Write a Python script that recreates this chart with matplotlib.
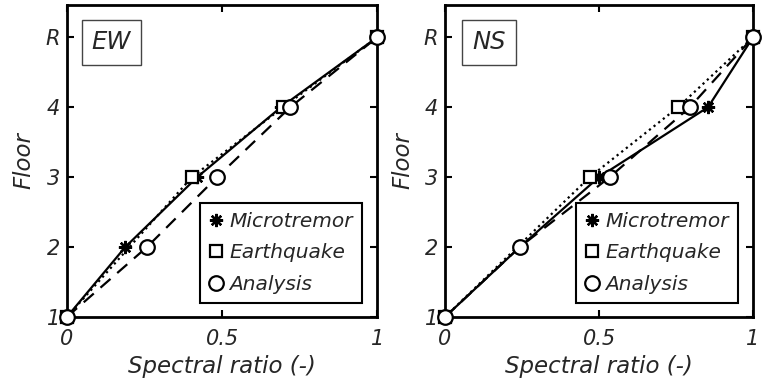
import matplotlib.pyplot as plt
import numpy as np

plt.rcParams['font.family'] = ['DejaVu Sans']

# floors: 1..4 and roof (R = 5)
floors = [1, 2, 3, 4, 5]
floors_eq = [1, 3, 4, 5]
floor_labels = ['1', '2', '3', '4', 'R']
x_ticks = [0, 0.5, 1]
x_ticklabels = ['0', '0.5', '1']

# EW direction
ew_micro = [0, 0.188, 0.42, 0.69, 1]
ew_eq = [0, 0.403, 0.697, 1]
ew_ana = [0, 0.258, 0.484, 0.72, 1]

# NS direction
ns_micro = [0, 0.243, 0.50, 0.854, 1]
ns_eq = [0, 0.47, 0.757, 1]
ns_ana = [0, 0.243, 0.535, 0.795, 1]

panels = [('EW', ew_micro, ew_eq, ew_ana), ('NS', ns_micro, ns_eq, ns_ana)]

fig = plt.figure(figsize=(7.7, 3.86), dpi=100)
ax_pos = [[0.087, 0.179, 0.403, 0.808], [0.578, 0.179, 0.400, 0.808]]
txt = '#262626'
asterisk = (8, 2, 0)

for pos, (name, mic, eq, ana) in zip(ax_pos, panels):
    ax = fig.add_axes(pos)
    ax.plot(mic, floors, '-', color='k', lw=1.6, marker=asterisk, ms=9.5,
            mew=1.7, clip_on=False, label='Microtremor', zorder=3)
    ax.plot(eq, floors_eq, ':', color='k', lw=1.6, marker='s', ms=8,
            mfc='white', mec='k', mew=1.6, clip_on=False, label='Earthquake', zorder=3)
    ax.plot(ana, floors, '--', color='k', lw=1.6, dashes=(6, 4), marker='o', ms=10.5,
            mfc='white', mec='k', mew=1.6, clip_on=False, label='Analysis', zorder=4)

    ax.set_xlim(0, 1)
    ax.set_ylim(1, 5.46)
    ax.set_xticks(x_ticks)
    ax.set_xticklabels(x_ticklabels)
    ax.set_yticks(floors)
    ax.set_yticklabels(floor_labels)
    ax.tick_params(direction='in', length=5, width=1.5, top=True, right=True,
                   labelsize=15, colors='k', labelcolor=txt)
    ax.tick_params(axis='x', pad=9)
    ax.tick_params(axis='y', pad=5)
    for lab in ax.get_xticklabels() + ax.get_yticklabels():
        lab.set_style('italic')
    for s in ax.spines.values():
        s.set_linewidth(2)
    ax.set_xlabel('Spectral ratio (-)', fontsize=16.5, style='italic', color=txt, labelpad=4)
    ax.set_ylabel('Floor', fontsize=16.5, style='italic', color=txt, labelpad=7)

    ax.text(0.1435, 0.88, name, transform=ax.transAxes, fontsize=17.5, style='italic',
            ha='center', va='center', color=txt,
            bbox=dict(boxstyle='square,pad=0.42', fc='white', ec='#444444', lw=1))

    handles = [
        plt.Line2D([], [], ls='none', color='k', marker=asterisk, ms=9.5, mew=1.7),
        plt.Line2D([], [], ls='none', marker='s', ms=8, mfc='white', mec='k', mew=1.6),
        plt.Line2D([], [], ls='none', marker='o', ms=10.5, mfc='white', mec='k', mew=1.6),
    ]
    leg = ax.legend(handles, ['Microtremor', 'Earthquake', 'Analysis'],
                    loc='lower right', bbox_to_anchor=(0.95, 0.045),
                    fancybox=False, framealpha=1, edgecolor='k',
                    handlelength=0.7, handletextpad=0.3, borderpad=0.45,
                    labelspacing=0.62, borderaxespad=0,
                    prop={'size': 14.5, 'style': 'italic'})
    leg.get_frame().set_linewidth(1.5)
    for t in leg.get_texts():
        t.set_color(txt)
    leg.set_zorder(10)

fig.savefig('out.png', dpi=100)
